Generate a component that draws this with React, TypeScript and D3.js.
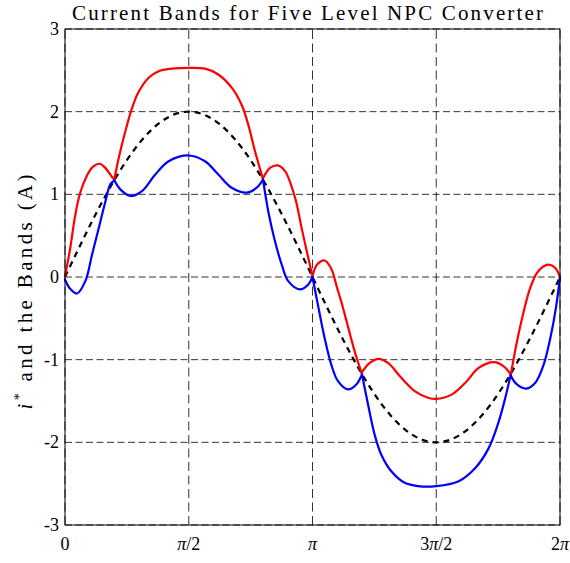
import React, { useEffect } from 'react';
import * as d3 from 'd3';

const WIDTH = 570;
const HEIGHT = 563;
const MARGIN = { left: 65, right: 10, top: 29, bottom: 38 };

const TITLE = 'Current Bands for Five Level NPC Converter';
const Y_TICKS = [-3, -2, -1, 0, 1, 2, 3];
const X_TICKS = [0, Math.PI / 2, Math.PI, (3 * Math.PI) / 2, 2 * Math.PI];
const X_TICK_LABELS = ['0', 'π/2', 'π', '3π/2', '2π'];

// Reference current i*, sampled every π/16 over one period
const I_REF = [
  0, 0.39, 0.765, 1.111, 1.414, 1.663, 1.848, 1.962, 2, 1.962, 1.848, 1.663, 1.414, 1.111, 0.765, 0.39,
  0, -0.39, -0.765, -1.111, -1.414, -1.663, -1.848, -1.962, -2, -1.962, -1.848, -1.663, -1.414, -1.111, -0.765, -0.39,
  0,
];

// Upper band [theta, current]
const UPPER_BAND: [number, number][] = [
  [0, 0.01], [0.063, 0.33], [0.127, 0.73], [0.19, 1.01], [0.275, 1.22], [0.35, 1.33], [0.44, 1.37],
  [0.512, 1.32], [0.597, 1.21], [0.626, 1.18],
  [0.682, 1.44], [0.765, 1.76], [0.85, 2.04], [0.935, 2.24], [1.062, 2.41], [1.189, 2.49], [1.358, 2.52],
  [1.571, 2.53], [1.777, 2.52], [1.946, 2.45], [2.116, 2.29], [2.243, 2.08], [2.327, 1.84], [2.412, 1.52],
  [2.511, 1.19],
  [2.602, 1.32], [2.7, 1.35], [2.793, 1.28], [2.92, 0.96], [3.004, 0.59], [3.088, 0.23], [3.1416, 0.01],
  [3.2, 0.15], [3.296, 0.2], [3.38, 0.1], [3.45, -0.12], [3.507, -0.3], [3.592, -0.6], [3.677, -0.9],
  [3.764, -1.16],
  [3.868, -1.04], [3.982, -0.99], [4.1, -1.04], [4.269, -1.22], [4.439, -1.38], [4.608, -1.46], [4.712, -1.475],
  [4.913, -1.42], [5.081, -1.28], [5.251, -1.1], [5.442, -1.03], [5.569, -1.08], [5.659, -1.18],
  [5.737, -0.78], [5.822, -0.42], [5.906, -0.13], [5.991, 0.05], [6.076, 0.13], [6.14, 0.15], [6.224, 0.11],
  [6.2832, 0],
];
const UPPER_KINKS = [0.626, 2.511, 3.1416, 3.764, 5.659];

// Lower band [theta, current]
const LOWER_BAND: [number, number][] = [
  [0, -0.03], [0.063, -0.14], [0.152, -0.2], [0.258, -0.05], [0.343, 0.27], [0.428, 0.59], [0.512, 0.91],
  [0.575, 1.12], [0.626, 1.17],
  [0.702, 1.06], [0.829, 0.98], [0.977, 1.04], [1.146, 1.24], [1.316, 1.4], [1.571, 1.47], [1.777, 1.4],
  [1.946, 1.24], [2.116, 1.08], [2.306, 1.02], [2.433, 1.08], [2.513, 1.18],
  [2.581, 0.79], [2.666, 0.43], [2.751, 0.15], [2.834, -0.05], [2.983, -0.15], [3.088, -0.09], [3.1416, 0],
  [3.211, -0.34], [3.296, -0.74], [3.38, -1.06], [3.465, -1.26], [3.592, -1.36], [3.698, -1.3], [3.77, -1.18],
  [3.846, -1.54], [3.931, -1.91], [4.015, -2.15], [4.142, -2.35], [4.312, -2.49], [4.481, -2.53], [4.712, -2.53],
  [4.997, -2.47], [5.208, -2.31], [5.378, -2.07], [5.505, -1.75], [5.589, -1.46], [5.655, -1.19],
  [5.737, -1.3], [5.855, -1.35], [5.97, -1.28], [6.076, -1.06], [6.16, -0.74], [6.232, -0.37], [6.2832, 0],
];
const LOWER_KINKS = [0.626, 2.513, 3.1416, 3.77, 5.655];

const FONT = '"Liberation Serif", "DejaVu Serif", serif';

function splitAtKinks(points: [number, number][], kinks: number[]) {
  const segments: [number, number][][] = [];
  let current: [number, number][] = [];
  points.forEach((p) => {
    current.push(p);
    if (kinks.some((k) => Math.abs(k - p[0]) < 1e-6)) {
      segments.push(current);
      current = [p];
    }
  });
  if (current.length > 1) segments.push(current);
  return segments;
}

function PiLabel({ text }: { text: string }) {
  const parts = text.split('π');
  return (
    <>
      {parts.map((part, i) => (
        <React.Fragment key={i}>
          {part && <tspan>{part}</tspan>}
          {i < parts.length - 1 && <tspan fontStyle="italic">π</tspan>}
        </React.Fragment>
      ))}
    </>
  );
}

export default function App() {
  useEffect(() => {
    document.body.style.margin = '0';
  }, []);

  const x = d3
    .scaleLinear()
    .domain([0, 2 * Math.PI])
    .range([MARGIN.left, WIDTH - MARGIN.right]);
  const y = d3
    .scaleLinear()
    .domain([-3, 3])
    .range([HEIGHT - MARGIN.bottom, MARGIN.top]);

  const smooth = d3
    .line<[number, number]>()
    .x((d) => x(d[0]))
    .y((d) => y(d[1]))
    .curve(d3.curveCatmullRom.alpha(0.5));

  const refLine = d3
    .line<number>()
    .x((_, i) => x((i * Math.PI) / 16))
    .y((d) => y(d))
    .curve(d3.curveNatural);

  const upperSegs = splitAtKinks(UPPER_BAND, UPPER_KINKS);
  const lowerSegs = splitAtKinks(LOWER_BAND, LOWER_KINKS);

  const [x0, x1] = x.range();
  const [y0, y1] = y.range();

  return (
    <svg width={WIDTH} height={HEIGHT} style={{ display: 'block', background: '#fff' }}>
      <rect width={WIDTH} height={HEIGHT} fill="#fff" />
      {/* grid */}
      <g stroke="#000" strokeWidth={0.8} fill="none">
        {Y_TICKS.map((t) => (
          <line key={'gy' + t} x1={x0} x2={x1} y1={y(t)} y2={y(t)} strokeDasharray="7,3.5" />
        ))}
        {X_TICKS.map((t, i) => (
          <line key={'gx' + i} x1={x(t)} x2={x(t)} y1={y0} y2={y1} strokeDasharray="9,4.5" />
        ))}
      </g>
      {/* curves */}
      <g fill="none" strokeWidth={2.2} strokeLinejoin="round" strokeLinecap="round">
        <path d={refLine(I_REF) ?? ''} stroke="#000" strokeDasharray="6,5" strokeLinecap="butt" />
        {upperSegs.map((s, i) => (
          <path key={'u' + i} d={smooth(s) ?? ''} stroke="#ff0000" />
        ))}
        {lowerSegs.map((s, i) => (
          <path key={'l' + i} d={smooth(s) ?? ''} stroke="#0000ff" />
        ))}
      </g>
      {/* frame */}
      <rect x={x0} y={y1} width={x1 - x0} height={y0 - y1} fill="none" stroke="#000" strokeWidth={1} />
      {/* tick labels */}
      <g fontFamily={FONT} fontSize={18} fill="#000">
        {Y_TICKS.map((t) => (
          <text key={'ty' + t} x={x0 - 6} y={y(t)} dy="0.33em" textAnchor="end">
            {t < 0 ? '-' + Math.abs(t) : String(t)}
          </text>
        ))}
        {X_TICKS.map((t, i) => (
          <text key={'tx' + i} x={x(t)} y={y0 + 25} textAnchor="middle">
            <PiLabel text={X_TICK_LABELS[i]} />
          </text>
        ))}
      </g>
      {/* title */}
      <text
        x={307.5}
        y={19.5}
        textAnchor="middle"
        fontFamily={FONT}
        fontSize={21}
        textLength={471}
        lengthAdjust="spacing"
      >
        {TITLE}
      </text>
      {/* y axis label */}
      <text
        transform="translate(32, 292) rotate(-90)"
        textAnchor="middle"
        fontFamily={FONT}
        fontSize={21}
        textLength={235}
        lengthAdjust="spacing"
      >
        <tspan fontStyle="italic">i</tspan>
        <tspan fontSize={14} dy={-8}>*</tspan>
        <tspan dy={8}> and the Bands (A)</tspan>
      </text>
    </svg>
  );
}
